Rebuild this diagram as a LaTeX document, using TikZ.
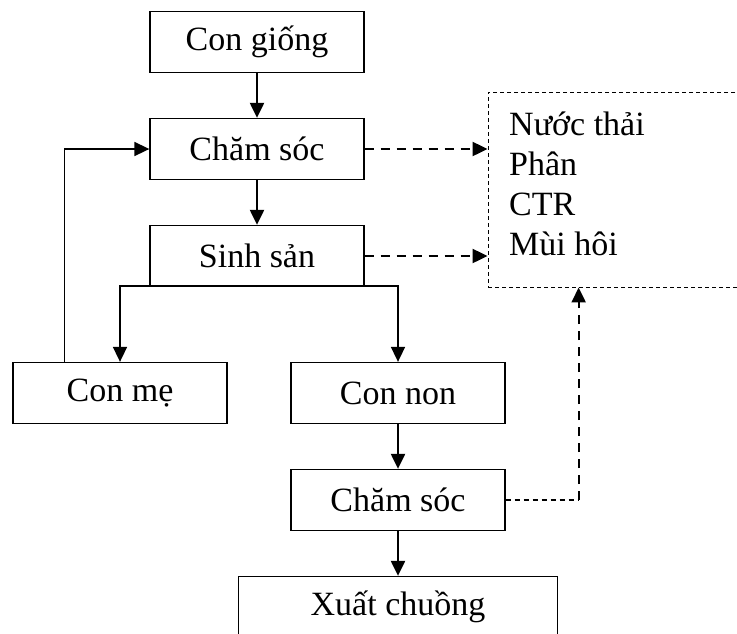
\documentclass[tikz,border=0pt]{standalone}
\usepackage{fontspec}
\setmainfont{Liberation Serif}
\usetikzlibrary{arrows.meta}

\begin{document}
\begin{tikzpicture}[x=1pt,y=1pt,>={Triangle[length=15pt,width=14pt]},node distance=107pt,
  box/.style={draw,line width=1.3pt,minimum width=214pt,minimum height=61pt,inner sep=0pt,font=\fontsize{34}{40}\selectfont},
  flow/.style={->,line width=2.2pt},
  link/.style={line width=1.3pt},
  waste/.style={->,line width=2.2pt,dash pattern=on 9pt off 7pt}]

  \useasboundingbox (0,0) rectangle (737,-633);

  \node[box] (cg) at (257,-42) {Con giống};
  \node[box] (cs) [below of=cg] {Chăm sóc};
  \node[box] (ss) [below of=cs] {Sinh sản};
  \node[box] (me) [node distance=137pt,below of=ss,xshift=-137pt] {Con mẹ};
  \node[box] (non) [node distance=137pt,below of=ss,xshift=141pt] {Con non};
  \node[box] (cs2) [below of=non] {Chăm sóc};
  \node[box,minimum width=319pt] (xc) [below of=cs2] {Xuất chuồng};

  % chat thai
  \node[draw,line width=0.9pt,dash pattern=on 4pt off 3pt,minimum width=257pt,minimum height=195pt,inner sep=0pt] (waste) at (616.5,-189.5) {};
  \node[font=\fontsize{34}{40}\selectfont,align=left,anchor=north west,inner sep=0pt] (wtext) at (509,-112) {Nước thải\\Phân\\CTR\\Mùi hôi};

  \draw[flow] (cg) -- (cs);
  \draw[flow] (cs) -- (ss);
  \draw[link] (ss) -- ++(0,-30) coordinate (split);
  \draw[flow,line width=1.7pt] (split) -| (me.north);
  \draw[flow,line width=1.7pt] (split) -| (non.north);
  \draw[flow,line width=1.7pt] ([xshift=52pt]me.north west) |- (cs.west);
  \draw[flow] (non) -- (cs2);
  \draw[flow] (cs2) -- (xc);

  \draw[waste] (cs.east) -- (cs.east -| waste.west);
  \draw[waste] (ss.east) -- (ss.east -| waste.west);
  \draw[link,dash pattern=on 5pt off 4pt] (cs2.east) -- ++(73,0) coordinate (up);
  \draw[waste] (up) -- (up |- waste.south);
\end{tikzpicture}
\end{document}
